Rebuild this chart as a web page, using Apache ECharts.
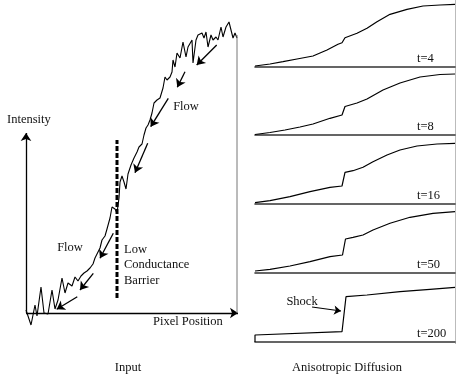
<!DOCTYPE html>
<html><head><meta charset="utf-8">
<script src="https://cdn.jsdelivr.net/npm/echarts@6/dist/echarts.min.js"></script>
<style>html,body{margin:0;padding:0;background:#fff}#c{width:456px;height:382px}</style>
</head><body><div id="c"></div>
<script>
// Noisy input profile: [pixel position, intensity]
const inputProfile = [
  [0,3],[5,-12],[9,8],[11,-3],[15,26],[18,0],[22,-1],[26,23],[29,4],[32,13],
  [36,35],[39,20],[42,30],[46,27],[49,36],[52,32],[55,37],[58,40],[61,42],[64,45],
  [67,49],[69,55],[71,59],[74,65],[76,73],[79,77],[81,84],[84,95],[86,106],[89,104],
  [91,100],[93,115],[94,131],[96,137],[98,131],[100,124],[102,139],[105,148],[108,155],[111,161],
  [113,166],[116,169],[118,178],[120,185],[122,188],[124,193],[126,200],[128,210],[131,213],[134,215],
  [137,225],[139,236],[141,233],[144,236],[146,241],[147,253],[149,246],[151,260],[154,255],[157,271],
  [160,256],[162,266],[166,273],[167,250],[170,273],[172,278],[176,280],[178,275],[180,281],[182,266],
  [185,278],[187,273],[190,276],[192,273],[195,286],[197,276],[200,286],[203,291],[207,275],[209,280],
  [211,275]
];
// Right end of the profile falling back to zero
const inputEdge = [[211,278],[211,0]];
// Low-conductance barrier
const barrier = [[91,15],[91,173]];
// Flow directions down the slope
const flowArrows = [
  [[190.7,268],[170.7,248]],
  [[159,241.3],[151.3,225.7]],
  [[142.3,214.7],[124.7,186.3]],
  [[121.7,169.7],[109,140.3]],
  [[87.3,79.7],[74,54.7]],
  [[67.3,39.7],[54,23]],
  [[51.3,16.3],[30.7,3.7]]
];
// Coordinate axes of the input plot
const inputAxes = [
  [[0,0],[0,180]],
  [[0,0],[212,0]]
];

// Diffused profiles at increasing times
const diffusionTimes = ['t=4', 't=8', 't=16', 't=50', 't=200'];
const profileT4 = [[0,1],[15,3],[28,5.3],[42,8],[58,11],[72,17],[83,22.7],[87,24.3],[90,29.3],[102,33.7],[112,38.7],[122,45.3],[135,52.7],[152,57.7],[168,61],[185,62],[200,62.7]];
const profileT8 = [[0,0.5],[15,2.5],[30,5],[45,8],[58,11],[75,16.7],[87,20],[90,28.5],[102,32],[112,36],[128,45],[145,52],[165,58],[185,60.5],[200,61]];
const profileT16 = [[0,1.3],[15,3.3],[35,7.3],[55,12.3],[75,16.7],[87,18],[90,31.7],[98,33.3],[108,36.7],[118,42.3],[132,49],[145,54],[162,58],[182,60],[200,60.7]];
const profileT50 = [[0,2],[15,3.7],[35,7],[55,11.3],[75,16.3],[87.5,18],[90.5,34],[98,35.7],[108,38],[118,43],[135,49.7],[155,55.7],[178,59.7],[200,61.3]];
const profileT200 = [[0,0],[0,7],[87,10.3],[91,45.3],[112,47],[145,50.3],[175,52.7],[200,54.7]];
const diffusionProfiles = [profileT4, profileT8, profileT16, profileT50, profileT200];
// Pointer to the shock in the last profile
const shockArrow = [[57,35],[86,31]];

const FONT = '"Liberation Serif", "Times New Roman", serif';
const INK = '#111';
const panelBase = [67, 135, 204, 273, 342];

const grids = [{ left: 20, top: 13, width: 220, height: 320 }];
const xAxes = [{ gridIndex: 0, type: 'value', min: -6, max: 214, show: false }];
const yAxes = [{ gridIndex: 0, type: 'value', min: -20, max: 300, show: false }];
panelBase.forEach((b, i) => {
  grids.push({ left: 255, top: b - 66, width: 200, height: 66 });
  xAxes.push({
    gridIndex: i + 1, type: 'value', min: 0, max: 200,
    axisLine: { show: true, lineStyle: { color: '#333', width: 1.6 } },
    axisTick: { show: false }, axisLabel: { show: false }, splitLine: { show: false }
  });
  yAxes.push({ gridIndex: i + 1, type: 'value', min: 0, max: 66, show: false });
});

const series = [
  { type: 'line', xAxisIndex: 0, yAxisIndex: 0, data: inputProfile, symbol: 'none',
    lineStyle: { color: '#000', width: 1.1 } },
  { type: 'line', xAxisIndex: 0, yAxisIndex: 0, data: inputEdge, symbol: 'none',
    lineStyle: { color: '#777', width: 1 } },
  { type: 'line', xAxisIndex: 0, yAxisIndex: 0, data: barrier, symbol: 'none',
    lineStyle: { color: '#000', width: 3, type: [5, 2] } },
  { type: 'lines', coordinateSystem: 'cartesian2d', xAxisIndex: 0, yAxisIndex: 0,
    symbol: ['none', 'arrow'], symbolSize: 8,
    lineStyle: { color: '#000', width: 1.3, opacity: 1 },
    data: flowArrows.map(c => ({ coords: c })) },
  { type: 'lines', coordinateSystem: 'cartesian2d', xAxisIndex: 0, yAxisIndex: 0,
    symbol: ['none', 'arrow'], symbolSize: 8,
    lineStyle: { color: '#000', width: 1.3, opacity: 1 },
    data: inputAxes.map(c => ({ coords: c })) }
];
diffusionProfiles.forEach((p, i) => {
  series.push({ type: 'line', xAxisIndex: i + 1, yAxisIndex: i + 1, data: p, symbol: 'none',
    lineStyle: { color: '#000', width: 1.2 } });
});
series.push({ type: 'lines', coordinateSystem: 'cartesian2d', xAxisIndex: 5, yAxisIndex: 5,
  symbol: ['none', 'arrow'], symbolSize: 7,
  lineStyle: { color: '#000', width: 1.2, opacity: 1 },
  data: [{ coords: shockArrow }] });

function txt(text, x, y, align) {
  return { type: 'text', silent: true,
    style: { text, x, y, fill: INK, font: '12.5px ' + FONT, textAlign: align || 'left', textVerticalAlign: 'middle' } };
}
const graphics = [
  { type: 'line', silent: true, shape: { x1: 455.5, y1: 0, x2: 455.5, y2: 344 },
    style: { stroke: '#bbb', lineWidth: 1 } },
  txt('Intensity', 7, 120),
  txt('Flow', 186, 107, 'center'),
  txt('Flow', 70, 248, 'center'),
  txt('Low', 124, 250),
  txt('Conductance', 124, 265),
  txt('Barrier', 124, 281),
  txt('Pixel Position', 153, 322),
  txt('Input', 128, 368, 'center'),
  txt('Anisotropic Diffusion', 347, 368, 'center'),
  txt('Shock', 302, 302, 'center')
];
diffusionTimes.forEach((t, i) => graphics.push(txt(t, 417, panelBase[i] - 8.5)));

const chart = echarts.init(document.getElementById('c'), null, { renderer: 'canvas' });
chart.setOption({
  animation: false,
  backgroundColor: '#fff',
  grid: grids, xAxis: xAxes, yAxis: yAxes,
  series, graphic: graphics
});
</script>
</body></html>
